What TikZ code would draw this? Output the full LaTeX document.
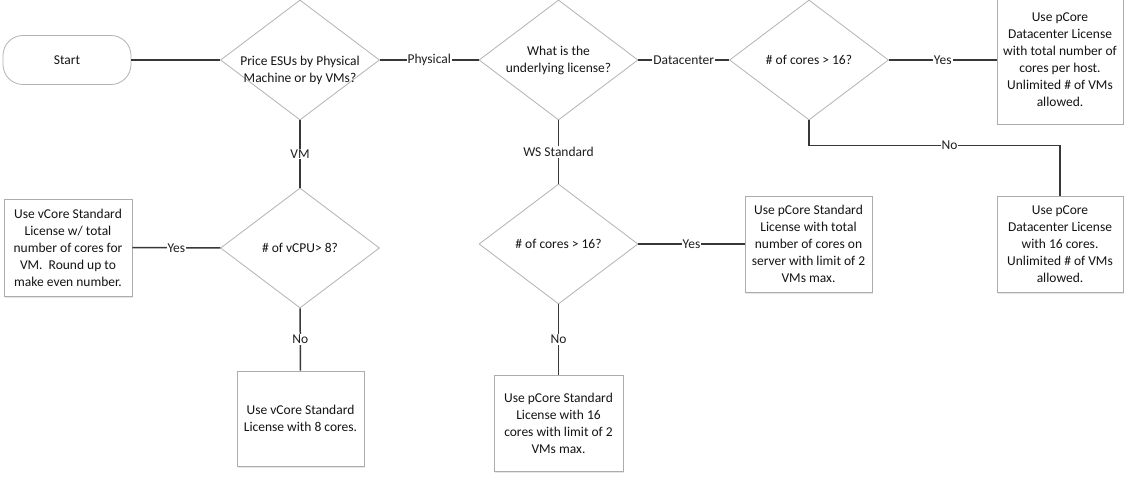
\documentclass[tikz,border=0pt]{standalone}
\usepackage{fontspec}
\setmainfont{Carlito}
\usetikzlibrary{shapes.geometric,shadows}

\begin{document}
\begin{tikzpicture}[x=1pt,y=-1pt,
            every node/.style={font=\fontsize{13.5}{17}\selectfont,text=black!92,align=center},
            dec/.style={diamond,draw=gray!60,line width=0.8pt,minimum width=159pt,minimum height=120pt,inner sep=0pt},
            res/.style={rectangle,draw=gray!65,fill=white,line width=0.8pt,inner sep=0pt,
              drop shadow={opacity=0.2,shadow xshift=1pt,shadow yshift=-1.5pt}},
            link/.style={draw=black!78,line width=1.5pt},
            lbl/.style={fill=white,inner sep=1pt,text=black!88}]
            \useasboundingbox (0,0) rectangle (1134,478);
            \node[draw=gray!60,line width=0.8pt,rounded corners=20pt,minimum width=128pt,minimum height=49pt](start) at (67,60) {Start};
            \node[dec](q1) at (300,60) {};
            \node(q1t) at (300,70) {Price ESUs by Physical\\Machine or by VMs?};
            \node[dec](q2) at (558.5,60) {};
            \node(q2t) at (q2) {What is the\\underlying license?};
            \node[dec](q3) at (809,60) {};
            \node(q3t) at (q3) {\# of cores > 16?};
            \node[dec](q4) at (300,248) {};
            \node(q4t) at (q4) {\# of vCPU> 8?};
            \node[dec](q5) at (558.5,244) {};
            \node(q5t) at (q5) {\# of cores > 16?};
            \node[res,minimum width=126pt,minimum height=128pt](r1) at (1060,60)
              {Use pCore\\Datacenter License\\with total number of\\cores per host.\\Unlimited \# of VMs\\allowed.};
            \node[res,minimum width=128pt,minimum height=97pt](r2) at (68,247.5)
              {Use vCore Standard\\License w/ total\\number of cores for\\VM.\ \ Round up to\\make even number.};
            \node[res,minimum width=127pt,minimum height=95pt](r3) at (300.5,418.5)
              {Use vCore Standard\\License with 8 cores.};
            \node[res,minimum width=129pt,minimum height=96pt](r4) at (558.5,423)
              {Use pCore Standard\\License with 16\\cores with limit of 2\\VMs max.};
            \node[res,minimum width=127pt,minimum height=96pt](r5) at (808.5,244)
              {Use pCore Standard\\License with total\\number of cores on\\server with limit of 2\\VMs max.};
            \node[res,minimum width=126pt,minimum height=96pt](r6) at (1060,244)
              {Use pCore\\Datacenter License\\with 16 cores.\\Unlimited \# of VMs\\allowed.};
            \draw[link](start)--(q1);
            \draw[link](q1)--node[lbl]{Physical}(q2);
            \draw[link](q2)--node[lbl]{Datacenter}(q3);
            \draw[link](q3)--node[lbl]{Yes}(r1);
            \draw[link](q3.south)--++(0,25)-|node[lbl,pos=0.28]{No}(r6.north);
            \draw[link](q1)--node[lbl]{VM}(q4);
            \draw[link](q2)--node[lbl]{WS Standard}(q5);
            \draw[link](q4)--node[lbl]{Yes}(r2);
            \draw[link](q4)--node[lbl]{No}(r3);
            \draw[link](q5)--node[lbl]{Yes}(r5);
            \draw[link](q5)--node[lbl]{No}(r4);
        \end{tikzpicture}
\end{document}
